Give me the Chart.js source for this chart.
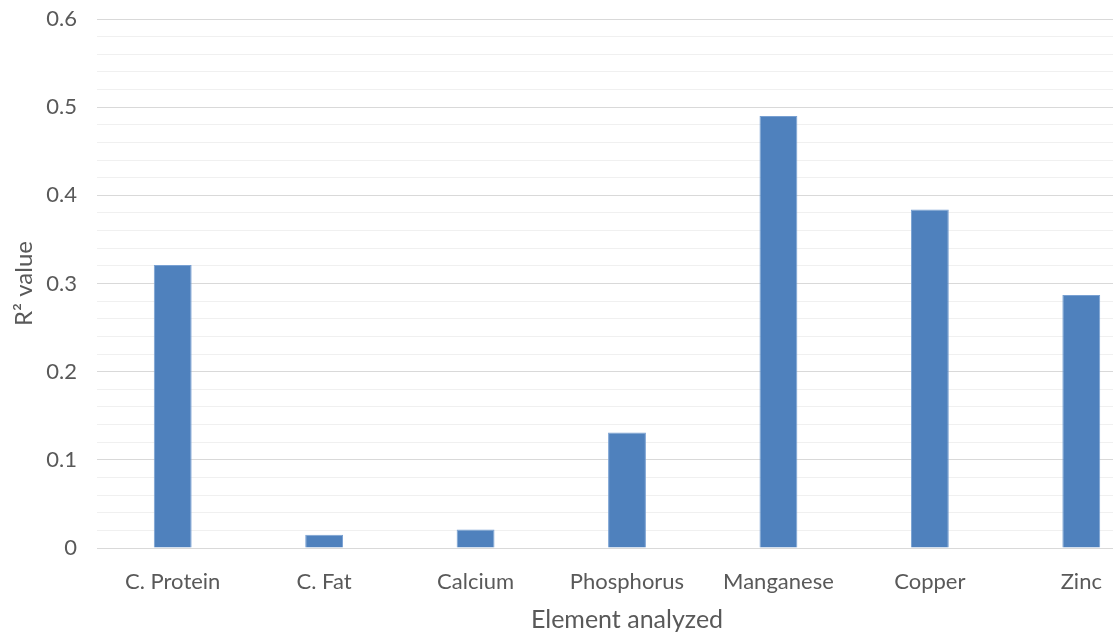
<!DOCTYPE html>
<html>
<head>
<meta charset="utf-8">
<script src="https://cdn.jsdelivr.net/npm/chart.js@4/dist/chart.umd.min.js"></script>
<style>
    html, body { margin: 0; padding: 0; background: #fff; overflow: hidden; }
    #wrap { width: 1160px; height: 632px; }
</style>
</head>
<body>
<div id="wrap"><canvas id="r2Chart" width="1160" height="632"></canvas></div>
<script>
// Values
const elements = ['C. Protein', 'C. Fat', 'Calcium', 'Phosphorus', 'Manganese', 'Copper', 'Zinc'];
const r2Values = [0.321, 0.015, 0.021, 0.131, 0.490, 0.384, 0.287];
const yMin = 0;
const yMax = 0.6;
const yMajorStep = 0.1;
const yMinorStep = 0.02;

function isMajor(v) {
    const n = v / yMajorStep;
    return Math.abs(n - Math.round(n)) < 1e-6;
}

const textColor = '#595959';
const fontFamily = 'Lato, "Open Sans", sans-serif';

const ctx = document.getElementById('r2Chart').getContext('2d');
new Chart(ctx, {
    type: 'bar',
    data: {
        labels: elements,
        datasets: [{
            label: 'R² value',
            data: r2Values,
            backgroundColor: 'rgb(79, 129, 189)',
            borderColor: 'rgb(120, 160, 210)',
            borderWidth: 1,
            categoryPercentage: 1,
            barPercentage: 0.25
        }]
    },
    options: {
        responsive: false,
        animation: false,
        devicePixelRatio: 1,
        layout: {
            padding: { top: 19, right: 3, bottom: 0, left: 12 }
        },
        plugins: {
            legend: { display: false },
            tooltip: { enabled: false }
        },
        scales: {
            x: {
                grid: { display: false, drawTicks: false },
                border: { display: true, color: '#d9d9d9', width: 1 },
                ticks: {
                    color: textColor,
                    font: { family: fontFamily, size: 22 },
                    padding: 21,
                    maxRotation: 0,
                    autoSkip: false
                },
                title: {
                    display: true,
                    text: 'Element analyzed',
                    color: textColor,
                    font: { family: fontFamily, size: 25, lineHeight: 1 },
                    padding: { top: 4, bottom: 0 }
                },
                afterFit(scale) { scale.height = 84; }
            },
            y: {
                min: yMin,
                max: yMax,
                border: { display: false },
                grid: {
                    drawTicks: false,
                    color: (c) => isMajor(c.tick.value) ? '#d9d9d9' : '#f0f0f0',
                    lineWidth: 1
                },
                ticks: {
                    stepSize: yMinorStep,
                    autoSkip: false,
                    color: textColor,
                    font: { family: fontFamily, size: 22 },
                    padding: 20,
                    callback: (v) => isMajor(v) ? String(Math.round(v * 10) / 10) : ''
                },
                title: {
                    display: true,
                    text: 'R² value',
                    color: textColor,
                    font: { family: fontFamily, size: 24, lineHeight: 1 },
                    padding: { top: 0, bottom: 4 }
                },
                afterFit(scale) {
                    scale.width = 85;
                    scale.paddingTop = 0;
                    scale.paddingBottom = 0;
                }
            }
        }
    }
});
</script>
</body>
</html>
